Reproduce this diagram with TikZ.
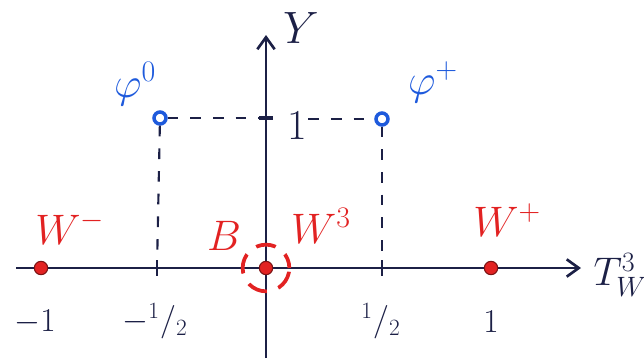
\RequirePackage{fix-cm}
\documentclass[tikz,border=0pt]{standalone}
\usepackage{amsmath}
\usepackage{amssymb}
\usepackage{xcolor}
\usetikzlibrary{arrows.meta}
\definecolor{axisnavy}{RGB}{28,32,70}
\definecolor{higgsblue}{RGB}{30,90,220}
\definecolor{gaugered}{RGB}{226,34,34}
\tikzset{every picture/.style={line width=0.75pt}}
\tikzset{
axisline/.style={draw=axisnavy, line width=2.2pt, -{Straight Barb[length=9pt,width=13pt,line width=2pt]}},
guideline/.style={draw=axisnavy, line width=1.6pt, dash pattern=on 8pt off 9pt},
tickmark/.style={rectangle, fill=axisnavy, inner sep=0pt},
higgsdot/.style={circle, draw=higgsblue, line width=2.6pt, fill=white, inner sep=0pt, minimum size=9pt},
gaugedot/.style={circle, fill=gaugered, draw=gaugered!55!black, line width=0.8pt, inner sep=0pt, minimum size=10pt},
bring/.style={circle, draw=gaugered, line width=2.8pt, dash pattern=on 15pt off 9pt, dash phase=4pt, inner sep=0pt, minimum size=35pt},
ticklabel/.style={text=axisnavy, inner sep=0.75pt, font=\fontsize{25}{30}\selectfont},
axislabel/.style={text=axisnavy, inner sep=0.75pt, font=\fontsize{34}{40}\selectfont},
higgslabel/.style={text=higgsblue, inner sep=0.75pt, font=\fontsize{32}{38}\selectfont},
gaugelabel/.style={text=gaugered, inner sep=0.75pt, font=\fontsize{32}{38}\selectfont}
}

\begin{document}
\begin{tikzpicture}[x=0.75pt,y=0.75pt,yscale=-1,xscale=1]
\useasboundingbox (0,0) rectangle (644,358);

% axes
\coordinate (O) at (266,268);
\coordinate (xstart) at (16,268);
\coordinate (xend) at (581,268);
\coordinate (ybot) at (266,358);
\coordinate (ytop) at (266,35);
%Straight Lines [id:xaxis]
\draw [axisline] (xstart) -- (xend);
%Straight Lines [id:yaxis]
\draw [axisline] (ybot) -- (ytop);

% ticks
\node [tickmark, minimum width=2.2pt, minimum height=12pt] (tmhalf) at (157,268) {};
\node [tickmark, minimum width=2.2pt, minimum height=12pt] (tphalf) at (382,268) {};
\node [tickmark, minimum width=10pt, minimum height=2.4pt] (yone) at (266,118) {};

% Text Node
\node [ticklabel, font=\fontsize{32}{38}\selectfont] (onelab) at (297,126) {$1$};

% Higgs doublet
\node [higgsdot] (phizero) at (160,118) {};
\node [higgsdot] (phiplus) at (382,119) {};
%Dashed Lines
\draw [guideline] (phizero) -- (yone);
\draw [guideline] (onelab.east |- phiplus) -- (phiplus);
\draw [guideline] (phizero) -- (tmhalf);
\draw [guideline] (phiplus) -- (tphalf);

% gauge bosons
\node [gaugedot] (wminus) at (41,268) {};
\node [gaugedot] (wplus) at (491,268) {};
\node [gaugedot] (bwthree) at (O) {};
\node [bring] (bcircle) at (O) {};

% Text Node
\node [axislabel] (ylab) at (301,28) {$Y$};
% Text Node
\node [axislabel, anchor=west, font=\fontsize{30}{36}\selectfont] (tlab) at (592,275) {$T^{3}_{W}$};
% Text Node
\node [higgslabel] (phizerolab) at (135,84) {$\varphi^{0}$};
% Text Node
\node [higgslabel] (phipluslab) at (433,82) {$\varphi^{+}$};
% Text Node
\node [gaugelabel] (wminuslab) at (70,228) {$W^{-}$};
% Text Node
\node [gaugelabel] (blab) at (224,236) {$B$};
% Text Node
\node [gaugelabel] (wthreelab) at (321,226) {$W^{3}$};
% Text Node
\node [gaugelabel] (wpluslab) at (507,220) {$W^{+}$};
% Text Node
\node [ticklabel] (mone) at (35,322) {$-1$};
% Text Node
\node [ticklabel] (mhalf) at (155,321) {$-{}^{1}/_{2}$};
% Text Node
\node [ticklabel] (phalf) at (381,321) {${}^{1}/_{2}$};
% Text Node
\node [ticklabel] (pone) at (491,322) {$1$};
\end{tikzpicture}
\end{document}
